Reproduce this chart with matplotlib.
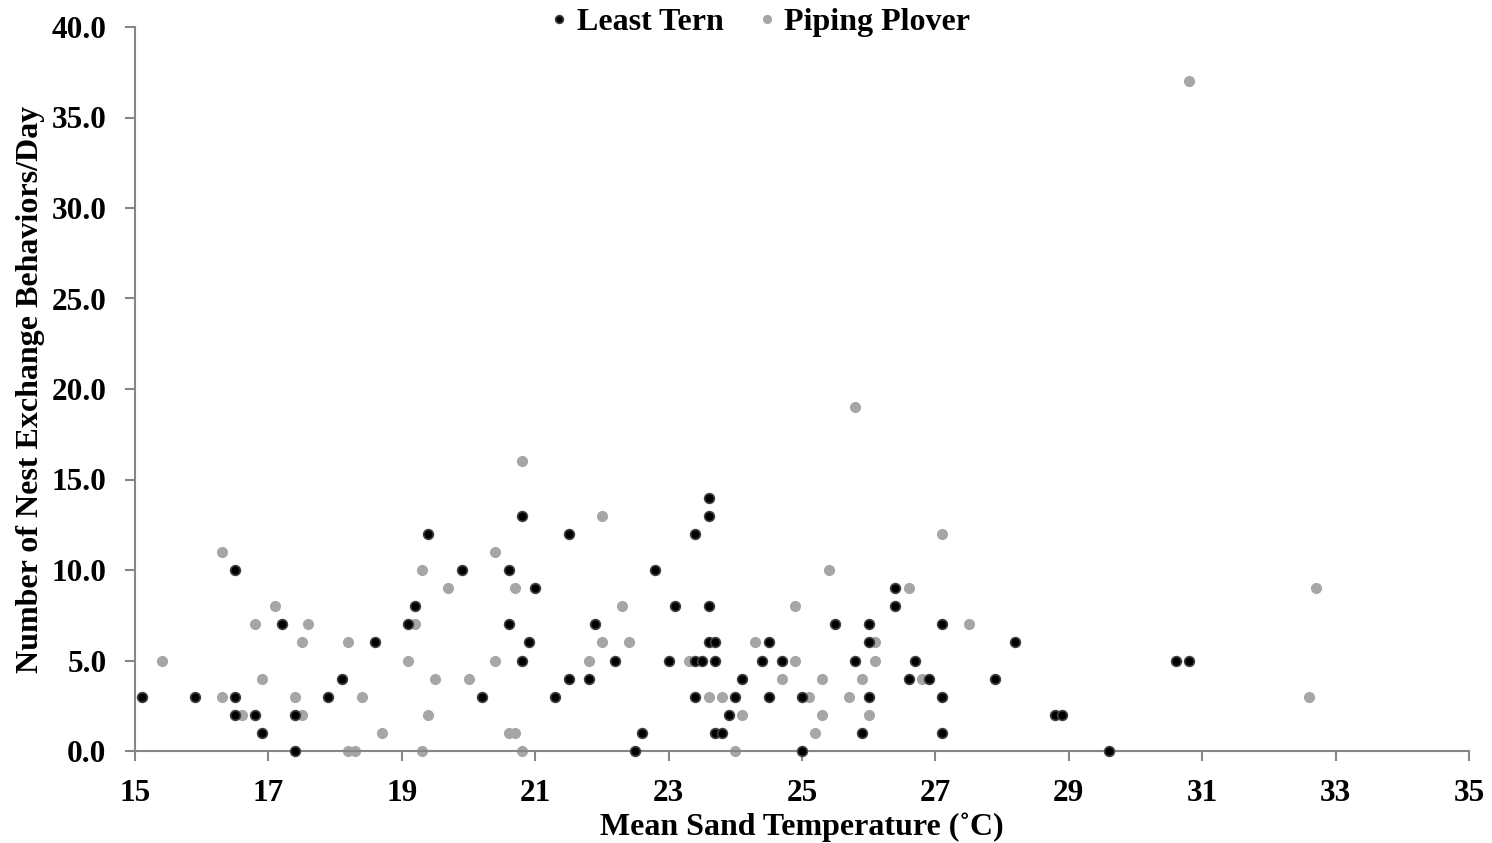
import numpy as np
import matplotlib
matplotlib.use("Agg")
import matplotlib.pyplot as plt

# Least Tern: mean sand temperature vs nest exchanges per day
tern_temp = [15.1, 15.9, 16.5, 16.5, 16.5, 16.8, 16.9, 17.2, 17.4, 17.4, 17.9, 18.1, 18.6,
             19.1, 19.2, 19.4, 19.9, 20.2, 20.6, 20.6, 20.8, 20.8, 20.9, 21.0, 21.3, 21.5,
             21.5, 21.8, 21.9, 22.2, 22.5, 22.6, 22.8, 23.0, 23.1, 23.4, 23.4, 23.4, 23.5,
             23.6, 23.6, 23.6, 23.6, 23.7, 23.7, 23.7, 23.8, 23.9, 24.0, 24.1, 24.4, 24.5,
             24.5, 24.7, 25.0, 25.0, 25.5, 25.8, 25.9, 26.0, 26.0, 26.0, 26.4, 26.4, 26.6,
             26.7, 26.9, 27.1, 27.1, 27.1, 27.9, 28.2, 28.8, 28.9, 29.6, 30.6, 30.8]
tern_count = [3, 3, 10, 3, 2, 2, 1, 7, 2, 0, 3, 4, 6,
              7, 8, 12, 10, 3, 10, 7, 13, 5, 6, 9, 3, 12,
              4, 4, 7, 5, 0, 1, 10, 5, 8, 12, 3, 5, 5,
              14, 13, 8, 6, 6, 5, 1, 1, 2, 3, 4, 5, 6,
              3, 5, 0, 3, 7, 5, 1, 7, 6, 3, 9, 8, 4,
              5, 4, 7, 3, 1, 4, 6, 2, 2, 0, 5, 5]

# Piping Plover
plover_temp = [15.4, 16.3, 16.3, 16.6, 16.8, 16.9, 17.1, 17.4, 17.5, 17.5, 17.6, 18.2, 18.2,
               18.3, 18.4, 18.7, 19.1, 19.2, 19.3, 19.3, 19.4, 19.5, 19.7, 20.0, 20.4, 20.4,
               20.6, 20.7, 20.7, 20.8, 20.8, 21.8, 22.0, 22.0, 22.3, 22.4, 23.3, 23.6, 23.8,
               24.0, 24.1, 24.3, 24.7, 24.9, 24.9, 25.1, 25.2, 25.3, 25.3, 25.4, 25.7, 25.8,
               25.9, 26.0, 26.1, 26.1, 26.6, 26.8, 27.1, 27.5, 30.8, 32.6, 32.7]
plover_count = [5, 11, 3, 2, 7, 4, 8, 3, 2, 6, 7, 6, 0,
                0, 3, 1, 5, 7, 10, 0, 2, 4, 9, 4, 11, 5,
                1, 1, 9, 16, 0, 5, 13, 6, 8, 6, 5, 3, 3,
                0, 2, 6, 4, 5, 8, 3, 1, 4, 2, 10, 3, 19,
                4, 2, 6, 5, 9, 4, 12, 7, 37, 3, 9]

x_ticks = [15, 17, 19, 21, 23, 25, 27, 29, 31, 33, 35]
y_ticks = [0, 5, 10, 15, 20, 25, 30, 35, 40]

plt.rcParams['font.family'] = ['Liberation Serif', 'DejaVu Serif']
plt.rcParams['font.weight'] = 'bold'

fig = plt.figure(figsize=(14.92, 8.43), dpi=100)
ax = fig.add_axes([135/1492, 1 - 751/843, (1469 - 135)/1492, (751 - 27)/843])

axis_grey = '#868686'
ax.plot(tern_temp, tern_count, 'o', ms=7, mfc='black', mec='#3f3f3f', mew=1.2,
        label='Least Tern', clip_on=False, zorder=3)
ax.plot(plover_temp, plover_count, 'o', ms=7, mfc='#a6a6a6', mec='#a6a6a6', mew=1.0,
        label='Piping Plover', clip_on=False, zorder=2)

ax.set_xlim(15, 35)
ax.set_ylim(0, 40)
ax.set_xticks(x_ticks)
ax.set_yticks(y_ticks)
ax.set_yticklabels([f"{v:.1f}" for v in y_ticks])
for s in ['top', 'right']:
    ax.spines[s].set_visible(False)
for s in ['left', 'bottom']:
    ax.spines[s].set_color(axis_grey)
    ax.spines[s].set_linewidth(1.5)
ax.tick_params(axis='both', direction='out', length=7.5, width=1.5, color=axis_grey,
               labelsize=22.5)
ax.tick_params(axis='x', pad=13)
ax.tick_params(axis='y', pad=13)
for lbl in ax.get_xticklabels() + ax.get_yticklabels():
    lbl.set_fontweight('bold')

ax.set_xlabel('Mean Sand Temperature (˚C)', fontsize=23, fontweight='bold', labelpad=3)
ax.set_ylabel('Number of Nest Exchange Behaviors/Day', fontsize=23, fontweight='bold', labelpad=5)

fig.legend(loc='upper center', bbox_to_anchor=(0.510, 1.025), ncol=2, frameon=False,
           prop={'size': 23, 'weight': 'bold'}, markerscale=0.8, handlelength=0.5,
           handletextpad=0.3, columnspacing=1.1)

fig.savefig('out.png', dpi=100)
